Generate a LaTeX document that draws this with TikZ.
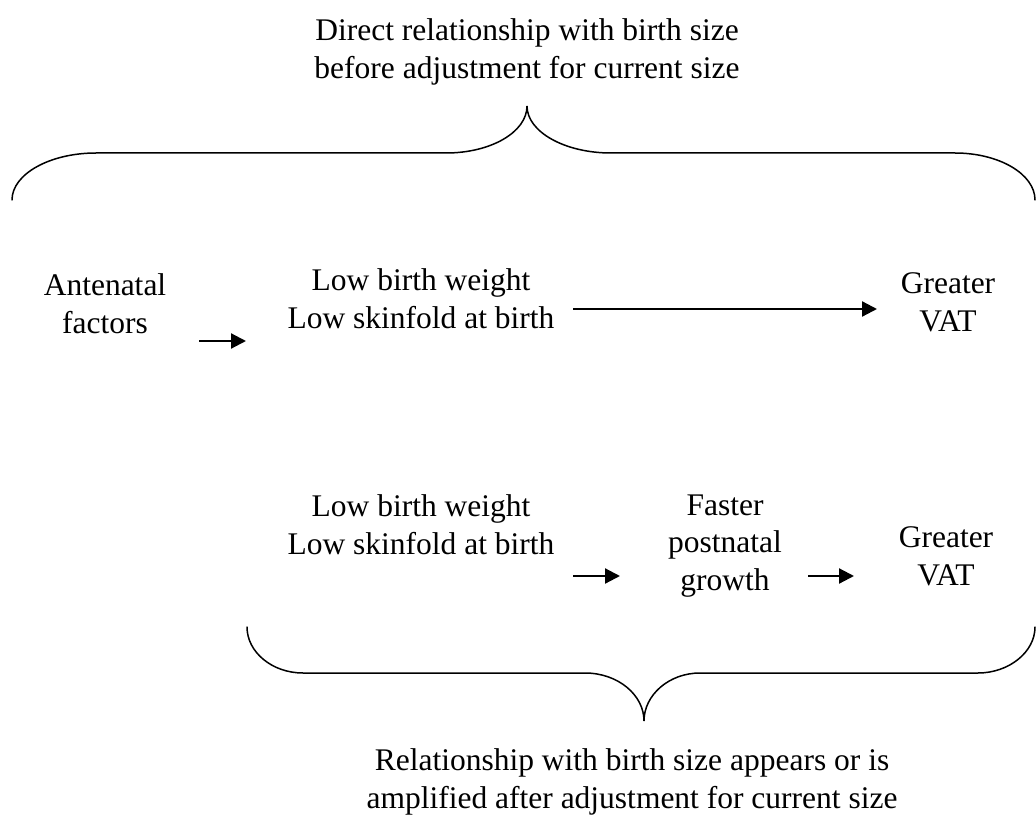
\documentclass[tikz,border=0pt]{standalone}
\usepackage{fontspec}
\setmainfont{Liberation Serif}
\usetikzlibrary{arrows.meta}
\begin{document}
\begin{tikzpicture}[x=1pt,y=-1pt,
  txt/.style={font=\fontsize{31.5}{37.5}\selectfont, align=center, anchor=north, inner sep=0pt},
  arr/.style={line width=2.2pt, -{Triangle[length=15pt,width=15pt]}},
  bracestyle/.style={line width=1.5pt, line cap=round}]
\useasboundingbox (0,0) rectangle (1036,818);
% texts
\node[txt] (top) at (527,18.5) {Direct relationship with birth size\\before adjustment for current size};
\node[txt] (ante) at (105,273.5) {Antenatal\\factors};
\node[txt] (low1) at (421,268.5) {Low birth weight\\Low skinfold at birth};
\node[txt] (vat1) at (948,272.5) {Greater\\VAT};
\node[txt] (low2) at (421,494.5) {Low birth weight\\Low skinfold at birth};
\node[txt] (fast) at (725,494.5) {Faster\\postnatal\\growth};
\node[txt] (vat2) at (946,526.5) {Greater\\VAT};
\node[txt] (bot) at (632,748.5) {Relationship with birth size appears or is\\amplified after adjustment for current size};
% arrow end points
\coordinate (a1s) at (199,341); \coordinate (a1e) at (246,341);
\coordinate (a2s) at (573,309); \coordinate (a2e) at (877,309);
\coordinate (a3s) at (573,576); \coordinate (a3e) at (620,576);
\coordinate (a4s) at (808,576); \coordinate (a4e) at (854,576);
\draw[arr] (a1s) -- (a1e);
\draw[arr] (a2s) -- (a2e);
\draw[arr] (a3s) -- (a3e);
\draw[arr] (a4s) -- (a4e);
% top brace
\draw[bracestyle] (12,200) .. controls (12,174) and (50,153) .. (96,153) -- (446,153)
  .. controls (491,153) and (527,132) .. (527,106)
  .. controls (527,132) and (565,153) .. (611,153) -- (955,153)
  .. controls (999,153) and (1035,174) .. (1035,200);
% bottom brace
\draw[bracestyle] (247,627) .. controls (247,652) and (272,673) .. (303,673) -- (585,673)
  .. controls (618,673) and (644,695) .. (644,721)
  .. controls (644,695) and (669,673) .. (700,673) -- (978,673)
  .. controls (1009,673) and (1035,652) .. (1035,627);
\end{tikzpicture}
\end{document}
